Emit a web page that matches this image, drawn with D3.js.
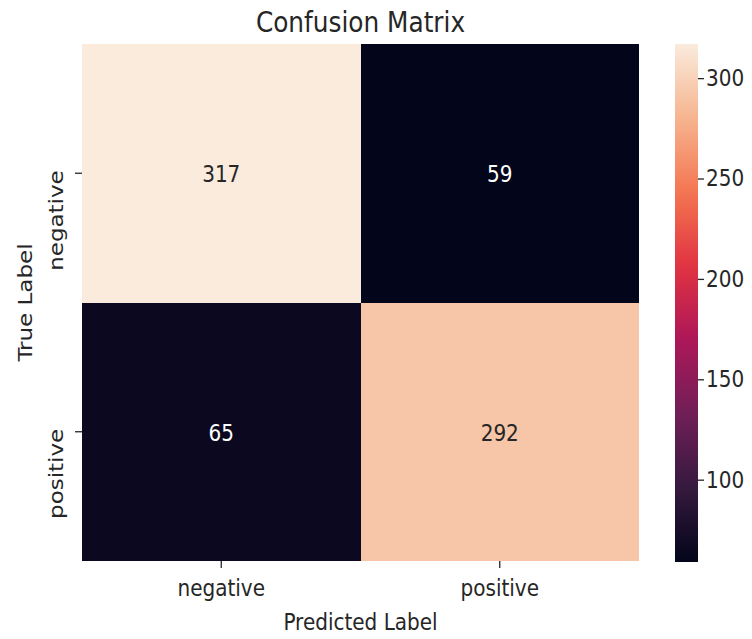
<!DOCTYPE html>
<html>
<head>
<meta charset="utf-8">
<script src="https://cdn.jsdelivr.net/npm/d3@7"></script>
<style>
  body { margin: 0; background: #fff; }
  svg text { font-family: "DejaVu Sans", sans-serif; fill: #262626; }
</style>
</head>
<body>
<div id="chart"></div>
<script>
// confusion matrix values
var trueLabels = ["negative", "positive"];
var predictedLabels = ["negative", "positive"];
var counts = [
    [317, 59],
    [65, 292]
];
var colorbarTicks = [100, 150, 200, 250, 300];

// seaborn "rocket" colours sampled at 0, 1/7 ... 1
var rocket = ["#03051a", "#35193e", "#701f57", "#ad1759", "#e13342", "#f37651", "#f6b48f", "#faebdd"];

var width = 752, height = 639;
var plot = {left: 82, right: 639, top: 44, bottom: 561};
var bar = {left: 675, right: 698, top: 44, bottom: 562};
var squeeze = "scale(0.87,1)"; // the picture is a bit narrower than tall

var svg = d3.select("#chart")
    .append("svg")
    .attr("width", width)
    .attr("height", height)
    .style("background-color", "#fff");

var cells = [];
trueLabels.forEach(function(t, i) {
    predictedLabels.forEach(function(p, j) {
        cells.push({row: t, col: p, value: counts[i][j]});
    });
});

var allValues = cells.map(function(d) { return d.value; });
var vmin = d3.min(allValues), vmax = d3.max(allValues);

var interp = d3.piecewise(d3.interpolateRgb, rocket);
var color = d3.scaleSequential(interp).domain([vmin, vmax]);

var x = d3.scaleBand().domain(predictedLabels).range([plot.left, plot.right]);
var y = d3.scaleBand().domain(trueLabels).range([plot.top, plot.bottom]);

// cells
svg.append("g")
    .selectAll("rect")
    .data(cells)
    .enter()
    .append("rect")
    .attr("x", function(d) { return x(d.col); })
    .attr("y", function(d) { return y(d.row); })
    .attr("width", x.bandwidth())
    .attr("height", y.bandwidth())
    .attr("shape-rendering", "crispEdges")
    .style("fill", function(d) { return color(d.value); });

// annotations
svg.append("g")
    .selectAll("text")
    .data(cells)
    .enter()
    .append("text")
    .attr("transform", function(d) {
        return "translate(" + (x(d.col) + x.bandwidth() / 2) + "," + (y(d.row) + y.bandwidth() / 2 + 9) + ") " + squeeze;
    })
    .attr("text-anchor", "middle")
    .style("font-size", "23px")
    .style("fill", function(d) {
        var c = d3.rgb(color(d.value));
        var lum = 0.2126 * c.r + 0.7152 * c.g + 0.0722 * c.b;
        return lum < 104 ? "#ffffff" : "#262626";
    })
    .text(function(d) { return d.value; });

// x axis
var xAxis = svg.append("g")
    .attr("transform", "translate(0," + plot.bottom + ")")
    .call(d3.axisBottom(x).tickSize(7).tickPadding(6));
xAxis.select(".domain").remove();
xAxis.selectAll("line").style("stroke", "#262626").style("stroke-width", 1.3);
xAxis.selectAll("text")
    .style("font-size", "23px")
    .attr("y", 0)
    .attr("dy", 0)
    .attr("transform", "translate(0,35) " + squeeze);

// y axis
var yAxis = svg.append("g")
    .attr("transform", "translate(" + plot.left + ",0)")
    .call(d3.axisLeft(y).tickSize(7).tickPadding(6));
yAxis.select(".domain").remove();
yAxis.selectAll("line").style("stroke", "#262626").style("stroke-width", 1.3);
yAxis.selectAll("text")
    .style("font-size", "23px")
    .attr("text-anchor", "end")
    .attr("x", 0)
    .attr("dy", 0)
    .attr("transform", "translate(-19,-3) " + squeeze + " rotate(-90)");

// colorbar
var cbScale = d3.scaleLinear().domain([vmin, vmax]).range([bar.bottom, bar.top]);
var defs = svg.append("defs");
var grad = defs.append("linearGradient")
    .attr("id", "cbgrad")
    .attr("x1", "0").attr("y1", "1")
    .attr("x2", "0").attr("y2", "0");
grad.selectAll("stop")
    .data(d3.range(0, 1.0001, 0.02))
    .enter()
    .append("stop")
    .attr("offset", function(d) { return d; })
    .attr("stop-color", function(d) { return interp(d); });

svg.append("rect")
    .attr("x", bar.left)
    .attr("y", bar.top)
    .attr("width", bar.right - bar.left)
    .attr("height", bar.bottom - bar.top)
    .style("fill", "url(#cbgrad)");

var cbAxis = svg.append("g")
    .attr("transform", "translate(" + bar.right + ",0)")
    .call(d3.axisRight(cbScale).tickValues(colorbarTicks).tickSize(6).tickPadding(3));
cbAxis.select(".domain").remove();
cbAxis.selectAll("line").style("stroke", "#262626").style("stroke-width", 1.3);
cbAxis.selectAll("text")
    .style("font-size", "23px")
    .attr("x", 0)
    .attr("transform", "translate(8,0) " + squeeze);

// titles
svg.append("text")
    .attr("transform", "translate(" + (plot.left + plot.right) / 2 + ",32) " + squeeze)
    .attr("text-anchor", "middle")
    .style("font-size", "28.5px")
    .text("Confusion Matrix");

svg.append("text")
    .attr("transform", "translate(" + (plot.left + plot.right) / 2 + ",630) " + squeeze)
    .attr("text-anchor", "middle")
    .style("font-size", "23px")
    .text("Predicted Label");

svg.append("text")
    .attr("transform", "translate(32," + (plot.top + plot.bottom) / 2 + ") " + squeeze + " rotate(-90)")
    .attr("text-anchor", "middle")
    .style("font-size", "23px")
    .text("True Label");
</script>
</body>
</html>
